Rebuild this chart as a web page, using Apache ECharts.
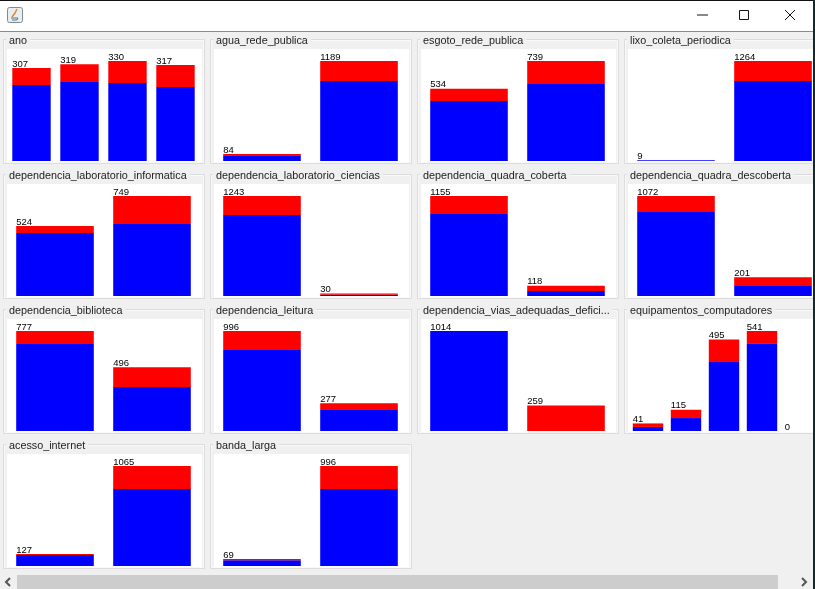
<!DOCTYPE html>
<html><head><meta charset="utf-8">
<style>html,body{margin:0;padding:0;background:#f0f0f0;overflow:hidden}#c{width:815px;height:589px}</style>
<script src="https://cdn.jsdelivr.net/npm/echarts@6/dist/echarts.min.js"></script>
</head><body><div id="c"></div>
<script>
const names = ["ano","agua_rede_publica","esgoto_rede_publica","lixo_coleta_periodica",
  "dependencia_laboratorio_informatica","dependencia_laboratorio_ciencias","dependencia_quadra_coberta","dependencia_quadra_descoberta",
  "dependencia_biblioteca","dependencia_leitura","dependencia_vias_adequadas_defici...","equipamentos_computadores",
  "acesso_internet","banda_larga"];
const totals = [[307,319,330,317],[84,1189],[534,739],[9,1264],[524,749],[1243,30],[1155,118],[1072,201],
  [777,496],[996,277],[1014,259],[41,115,495,541,0],[127,1065],[69,996]];
const blue = [[251,261,257,244],[68,951],[443,569],[8,1011],[472,539],[1007,15],[947,58],[900,107],
  [676,342],[807,209],[1014,0],[22,70,373,471,0],[117,820],[57,767]];
const red = [[56,58,73,73],[16,238],[91,170],[1,253],[52,210],[236,15],[208,60],[172,94],
  [101,154],[189,68],[0,259],[19,45,122,70,0],[10,245],[12,229]];

const font = '"Liberation Sans",sans-serif';
const grid=[],xAxis=[],yAxis=[],series=[],title=[],gfx=[];
const colX=[7,214,421,628], rowY=[49,184,319,454];
const bandW={2:97,4:48,5:38};
gfx.push({type:'rect',z:0,shape:{x:0,y:0,width:815,height:589},style:{fill:'#f0f0f0'}});
names.forEach((nm,i)=>{
  const c=i%4,r=Math.floor(i/4),x=colX[c],y=rowY[r],n=totals[i].length,bw=bandW[n];
  const left=x+(n===2?-0.5:0.5)+(n===5?0.5:0);
  gfx.push({type:'rect',z:1,shape:{x:x-3.5,y:y-9.5,width:c===3?220:201,height:124},style:{fill:'#f0f0f0',stroke:'#dcdcdc',lineWidth:1}});
  gfx.push({type:'rect',z:1,shape:{x:x-2.5,y:y-8.5,width:c===3?218:199,height:122},style:{fill:'#f0f0f0',stroke:'#f9f9f9',lineWidth:1}});
  gfx.push({type:'rect',z:1,shape:{x:x,y:y,width:c===3?190:195,height:113},style:{fill:'#fff'}});
  grid.push({left:left,top:y+12,width:bw*n,height:100,containLabel:false,outerBoundsMode:'none'});
  xAxis.push({type:'category',gridIndex:i,show:false,data:totals[i].map(String)});
  yAxis.push({type:'value',gridIndex:i,show:false,min:0,max:Math.max(...totals[i])});
  const common={type:'bar',xAxisIndex:i,yAxisIndex:i,stack:'s'+i,barWidth:'80%',animation:false,silent:true};
  series.push({...common,data:blue[i],itemStyle:{color:'#0000ff'}});
  series.push({...common,data:red[i],itemStyle:{color:'#ff0000'}});
  series.push({...common,data:totals[i].map(()=>0),itemStyle:{color:'transparent'},
    label:{show:true,position:'insideBottomLeft',distance:0,offset:[0,1],color:'#000',fontFamily:'"Liberation Sans",sans-serif',fontSize:9.5,
      formatter:p=>String(totals[i][p.dataIndex])}});
  title.push({text:nm,left:x-1,top:y-14,padding:[0,3,0,3],backgroundColor:'#f0f0f0',
    textStyle:{color:'#222',fontFamily:font,fontSize:10.8,fontWeight:'normal',lineHeight:13}});
});
// window chrome
gfx.push(
 {type:'rect',z:100,shape:{x:0,y:0,width:815,height:31},style:{fill:'#fff'}},
 {type:'rect',z:100,shape:{x:0,y:0,width:815,height:1},style:{fill:'#111'}},
 {type:'rect',z:100,shape:{x:0,y:31,width:815,height:1},style:{fill:'#8a8a8a'}},
 {type:'rect',z:101,shape:{x:7.5,y:7.5,width:15,height:15,r:2},style:{fill:'#e8eef0',stroke:'#7f8c92'}},
 {type:'polyline',z:102,shape:{points:[[12,17],[15,13],[17,9]]},style:{stroke:'#d98a3a',fill:'none',lineWidth:1.5}},
 {type:'polyline',z:102,shape:{points:[[11,18],[18,18],[17,20],[12,20]]},style:{stroke:'#55788c',fill:'none',lineWidth:1}},
 {type:'rect',z:101,shape:{x:697,y:14.5,width:11,height:1},style:{fill:'#111'}},
 {type:'rect',z:101,shape:{x:739.5,y:10.5,width:9,height:9},style:{fill:'none',stroke:'#111'}},
 {type:'line',z:101,shape:{x1:785,y1:10,x2:795,y2:20},style:{stroke:'#111'}},
 {type:'line',z:101,shape:{x1:795,y1:10,x2:785,y2:20},style:{stroke:'#111'}},
 {type:'rect',z:100,shape:{x:0,y:574,width:813,height:15},style:{fill:'#f0f0f0'}},
 {type:'rect',z:101,shape:{x:17,y:575,width:761,height:14},style:{fill:'#cdcdcd'}},
 {type:'polyline',z:101,shape:{points:[[10,578],[6,582],[10,586]]},style:{stroke:'#555',fill:'none',lineWidth:2}},
 {type:'polyline',z:101,shape:{points:[[802,578],[806,582],[802,586]]},style:{stroke:'#555',fill:'none',lineWidth:2}},
 {type:'rect',z:103,shape:{x:813,y:0,width:2,height:589},style:{fill:'#15282e'}}
);
const chart=echarts.init(document.getElementById('c'),null,{renderer:'canvas'});
chart.setOption({animation:false,backgroundColor:'#f0f0f0',title,grid,xAxis,yAxis,series,graphic:{elements:gfx},tooltip:{show:false},legend:{show:false}});
</script></body></html>
